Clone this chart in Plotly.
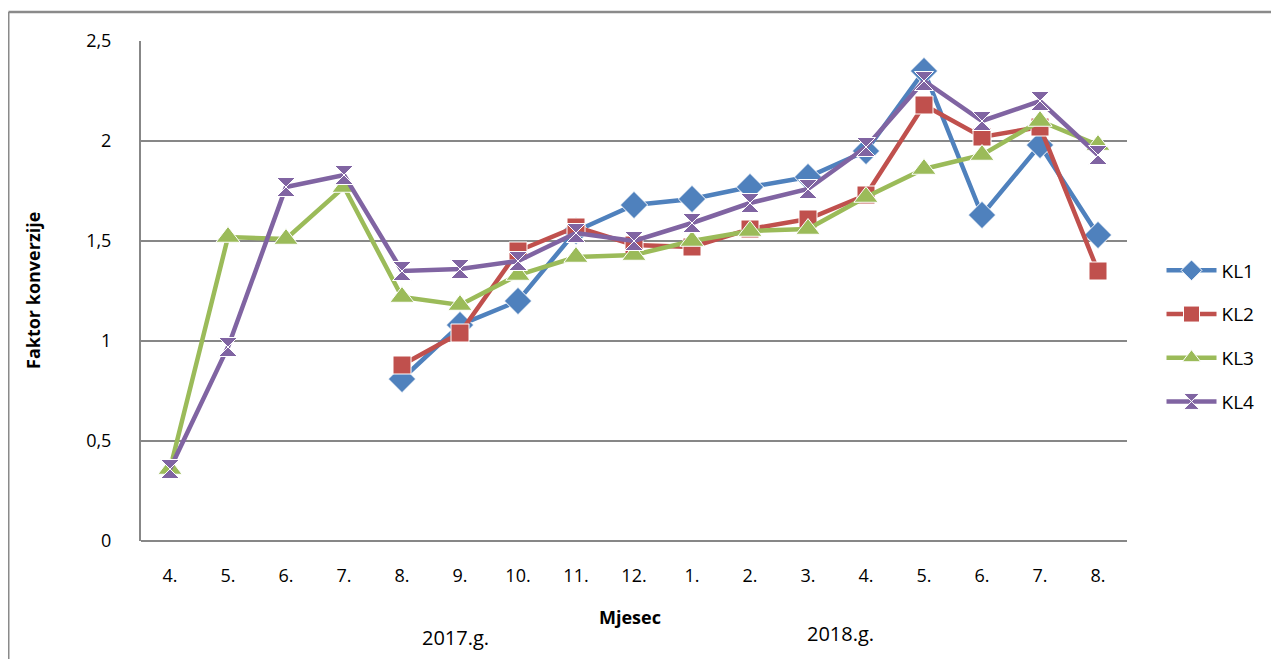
import plotly.graph_objects as go

months = ["4.", "5.", "6.", "7.", "8.", "9.", "10.", "11.", "12.",
          "1.", "2.", "3.", "4.", "5.", "6.", "7.", "8."]
# unique category keys so repeated month labels stay separate
keys = list(range(len(months)))

kl1 = [None, None, None, None, 0.81, 1.08, 1.20, 1.55, 1.68, 1.71, 1.77, 1.82, 1.95, 2.35, 1.63, 1.98, 1.53]
kl2 = [None, None, None, None, 0.88, 1.04, 1.45, 1.57, 1.48, 1.47, 1.56, 1.61, 1.73, 2.18, 2.02, 2.07, 1.35]
kl3 = [0.36, 1.52, 1.51, 1.77, 1.22, 1.18, 1.33, 1.42, 1.43, 1.50, 1.55, 1.56, 1.72, 1.86, 1.93, 2.10, 1.98]
kl4 = [0.36, 0.97, 1.77, 1.83, 1.35, 1.36, 1.40, 1.54, 1.50, 1.59, 1.69, 1.76, 1.97, 2.30, 2.10, 2.20, 1.93]

series = [
    ("KL1", kl1, "#4F81BD", "diamond", 21),
    ("KL2", kl2, "#C0504D", "square", 18),
    ("KL3", kl3, "#9BBB59", "triangle-up", 21),
    ("KL4", kl4, "#8064A2", "hourglass", 19),
]

font = "Open Sans, Liberation Sans, sans-serif"

# page has an 8px body margin, so plot-area offsets are shifted by 8
L, T = 133, 33
fig = go.Figure()
for name, vals, color, symbol, size in series:
    fig.add_trace(go.Scatter(
        x=keys, y=vals, name=name, mode="lines+markers", legendgroup=name,
        line=dict(color=color, width=4.5),
        marker=dict(symbol=symbol, size=size, color=color, line=dict(color="white", width=1)),
    ))


def px(x):
    return (x - 141) / 986


def py(y):
    return (541 - y) / 500


fig.update_layout(
    width=1279, height=659,
    margin=dict(l=L, r=1279 - L - 986, t=T, b=659 - T - 500),
    paper_bgcolor="white", plot_bgcolor="white",
    separators=",.",
    font=dict(family=font, size=18, color="black"),
    showlegend=True,
    legend=dict(x=1.035, y=0.41, xanchor="left", yanchor="middle",
                font=dict(size=19), tracegroupgap=16, itemwidth=50),
    xaxis=dict(range=[-0.5, 16.5], tickmode="array", tickvals=keys, ticktext=months,
               showgrid=False, zeroline=False, showline=False, ticks="",
               tickfont=dict(size=18), ticklabelstandoff=22),
    yaxis=dict(range=[0, 2.5], dtick=0.5, showgrid=True, gridcolor="#878787", gridwidth=2,
               zeroline=True, zerolinecolor="#878787", zerolinewidth=2,
               showline=True, linecolor="#878787", linewidth=2, ticks="",
               tickfont=dict(size=18), ticklabelstandoff=24),
    shapes=[
        dict(type="line", xref="paper", yref="paper",
             x0=px(8.5), x1=px(1300), y0=py(12), y1=py(12),
             line=dict(color="#8a8a8a", width=2.5), layer="above"),
        dict(type="line", xref="paper", yref="paper",
             x0=px(8.5), x1=px(8.5), y0=py(12), y1=py(680),
             line=dict(color="#8a8a8a", width=2), layer="above"),
    ],
    annotations=[
        dict(text="<b>Faktor konverzije</b>", textangle=-90, xref="paper", yref="paper",
             x=px(33), y=py(291), xanchor="center", yanchor="middle",
             showarrow=False, font=dict(size=18)),
        dict(text="<b>Mjesec</b>", xref="paper", yref="paper",
             x=px(630), y=py(617), xanchor="center", yanchor="middle",
             showarrow=False, font=dict(size=18)),
        dict(text="2017.g.", xref="paper", yref="paper",
             x=px(455), y=py(637), xanchor="center", yanchor="middle",
             showarrow=False, font=dict(size=20)),
        dict(text="2018.g.", xref="paper", yref="paper",
             x=px(840), y=py(633), xanchor="center", yanchor="middle",
             showarrow=False, font=dict(size=20)),
    ],
)

fig.write_html("out.html")
